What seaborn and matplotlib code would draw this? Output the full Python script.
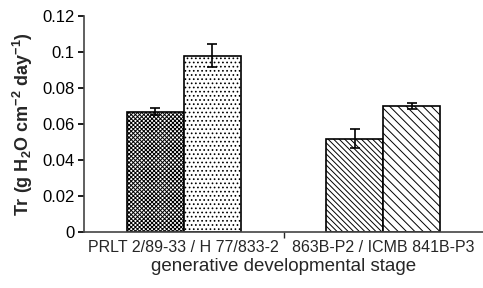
import matplotlib
matplotlib.use("Agg")
import matplotlib.pyplot as plt
import seaborn as sns
import pandas as pd

# Datos
grupos = ["PRLT 2/89-33 / H 77/833-2", "PRLT 2/89-33 / H 77/833-2",
          "863B-P2 / ICMB 841B-P3", "863B-P2 / ICMB 841B-P3"]
series = ["a", "b", "a", "b"]
barras = ["PRLT 2/89-33", "H 77/833-2", "863B-P2", "ICMB 841B-P3"]
valores = [0.067, 0.098, 0.052, 0.070]
errores = [0.002, 0.0065, 0.0055, 0.0018]
tramas = ["xxxxxxxx", "....", "\\\\\\\\\\\\", "\\\\\\\\"]
colores = ["white", "white", "white", "white"]

df = pd.DataFrame({"grupo": grupos, "serie": series, "Tr": valores})

sns.set_theme(style="white")
plt.rcParams["font.family"] = ["Liberation Sans", "DejaVu Sans"]
plt.rcParams["mathtext.fontset"] = "custom"
plt.rcParams["mathtext.bf"] = "Liberation Sans:bold"
plt.rcParams["mathtext.rm"] = "Liberation Sans"
plt.rcParams["hatch.linewidth"] = 0.7

fig = plt.figure(figsize=(4.83, 2.88), dpi=100)
ax = fig.add_axes([0.174, 0.194, 0.826, 0.75])

sns.barplot(data=df, x="grupo", y="Tr", hue="serie", width=0.57,
            palette=["white", "white"], edgecolor="black", linewidth=1.2,
            legend=False, ax=ax, errorbar=None)

# orden de patches: serie a (grupo1, grupo2), serie b (grupo1, grupo2)
orden = [0, 2, 1, 3]
for p, i in zip(ax.patches, orden):
    p.set_hatch(tramas[i])
    p.set_facecolor(colores[i])
    cx = p.get_x() + p.get_width() / 2
    ax.errorbar(cx, valores[i], yerr=errores[i], color="black",
                capsize=3.5, elinewidth=1.2, capthick=1.2)

ax.set_ylim(0, 0.12)
ax.set_xlim(-0.5, 1.5)
ax.set_yticks([0, 0.02, 0.04, 0.06, 0.08, 0.1, 0.12])
ax.set_yticklabels(["0", "0.02", "0.04", "0.06", "0.08", "0.1", "0.12"], fontsize=12)
ax.tick_params(axis="x", length=0, labelsize=11.5, pad=6)
ax.set_xticks([0.5], minor=True)
ax.tick_params(axis="x", which="minor", length=4, direction="out", bottom=True)
ax.tick_params(axis="y", length=4, direction="out", left=True, colors="black", pad=3)

for s in ["top", "right"]:
    ax.spines[s].set_visible(False)
for s in ["left", "bottom"]:
    ax.spines[s].set_color("#444444")
    ax.spines[s].set_linewidth(1.2)

ax.set_xlabel("generative developmental stage", fontsize=13.5, labelpad=2)
ax.set_ylabel(r"Tr (g H$_{\mathbf{2}}$O cm$^{\mathbf{-2}}$ day$^{\mathbf{-1}}$)",
              fontsize=13, fontweight="bold", labelpad=5)

fig.savefig("out.png", dpi=100)
